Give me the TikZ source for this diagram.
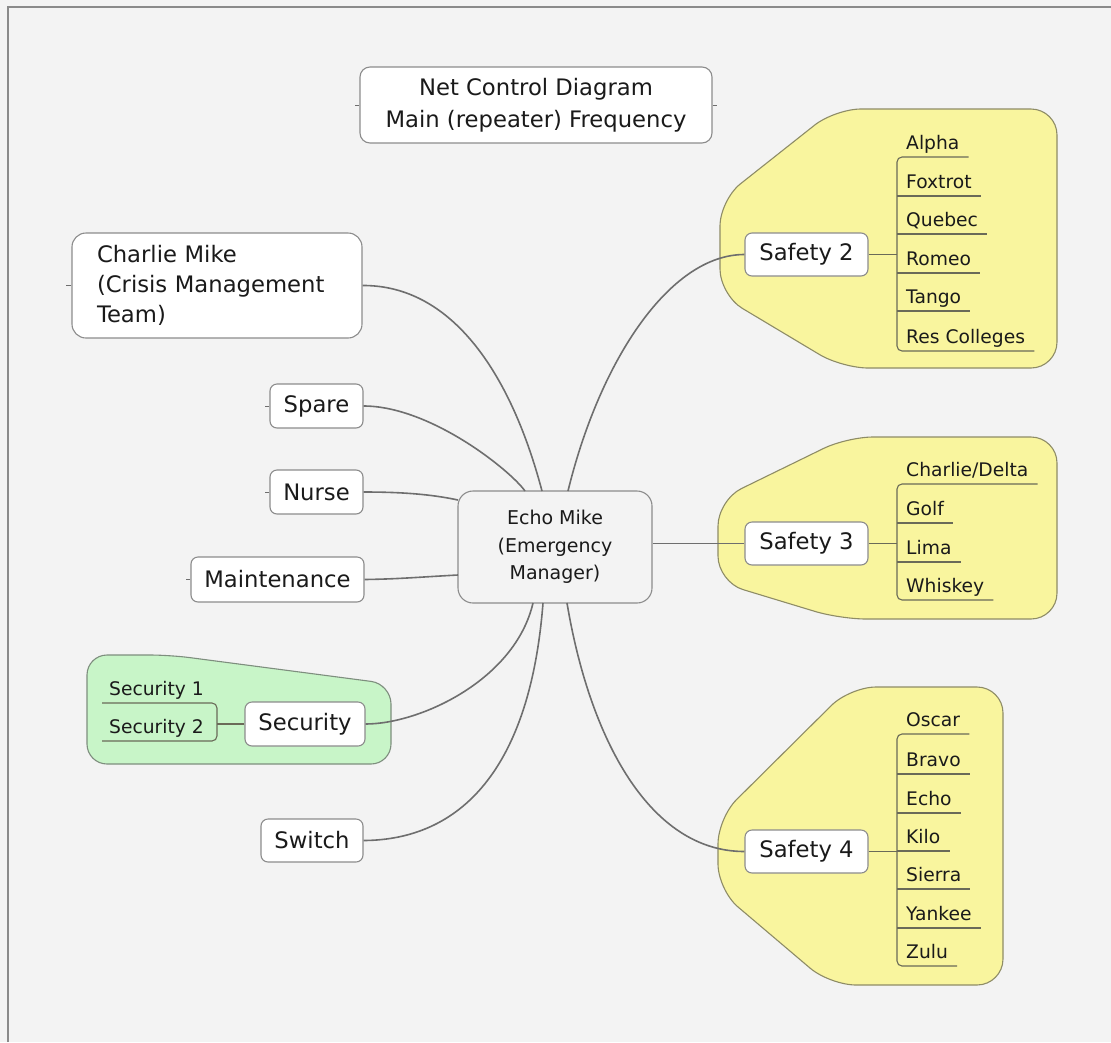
\documentclass[tikz,border=0pt]{standalone}
\usepackage{fontspec}
\setmainfont{DejaVu Sans}
\definecolor{bg}{HTML}{F3F3F3}
\definecolor{frame}{HTML}{8A8A8A}
\definecolor{nodeborder}{HTML}{8C8C8C}
\definecolor{txt}{HTML}{1A1A1A}
\definecolor{linegray}{HTML}{6E6E6E}
\definecolor{yel}{HTML}{F9F59E}
\definecolor{yelb}{HTML}{8E8C66}
\definecolor{grn}{HTML}{C8F5C8}
\definecolor{grnb}{HTML}{7E8E7E}
\definecolor{brkcol}{HTML}{6A6A58}
\tikzset{
 box/.style={draw=nodeborder, fill=white, rounded corners=7pt, line width=1.1pt, text=txt,
   font=\fontsize{22.7}{30}\selectfont, inner sep=0pt, align=center},
 item/.style={anchor=south west, inner xsep=9pt, inner ysep=3pt, text height=14pt, text depth=4.7pt,
   font=\fontsize{18.7}{22}\selectfont, text=txt},
 conn/.style={draw=linegray, line width=1.6pt},
 brk/.style={draw=brkcol, line width=1.1pt, rounded corners=5pt},
 yregion/.style={fill=yel, draw=yelb, line width=1.1pt, rounded corners=26pt},
 gregion/.style={fill=grn, draw=grnb, line width=1.1pt, rounded corners=20pt},
 stub/.style={draw=linegray, line width=0.8pt}
}
\begin{document}
\begin{tikzpicture}[x=1pt,y=-1pt]
\useasboundingbox (0,0) rectangle (1111,1042);
\fill[bg] (0,0) rectangle (1111,1042);
\draw[frame, line width=2pt] (8,1042) -- (8,7) -- (1111,7);

% regions
\draw[yregion] (1057,240) -- (1057,368) -- (842,368) -- (720,295) -- (720,200) -- (835,109) -- (1057,109) -- cycle;
\draw[yregion] (1057,530) -- (1057,619) -- (840,619) -- (718,582) -- (718,500) -- (847,437) -- (1057,437) -- cycle;
\draw[yregion] (1003,830) -- (1003,985) -- (830,985) -- (718,890) -- (718,818) -- (850,687) -- (1003,687) -- cycle;
\draw[gregion] (87,710) -- (87,655) -- (170,655) -- (391,684) -- (391,764) -- (87,764) -- cycle;

% nodes
\node[box, minimum width=352pt, minimum height=76pt, rounded corners=10pt, font=\fontsize{22.7}{32}\selectfont] (title) at (536,105) {Net Control Diagram\\Main (repeater) Frequency};
\node[box, minimum width=290pt, minimum height=105pt, rounded corners=14pt, text width=240pt, inner xsep=25pt, align=left] (cm) at (217,285.5) {Charlie Mike\\(Crisis Management\\Team)};
\node[box, minimum width=93pt, minimum height=44pt] (spare) at (316.5,406) {Spare};
\node[box, minimum width=93pt, minimum height=44pt] (nurse) at (316.5,492) {Nurse};
\node[box, minimum width=173pt, minimum height=45pt] (maint) at (277.5,579.5) {Maintenance};
\node[box, fill=bg, minimum width=194pt, minimum height=112pt, rounded corners=15pt, font=\fontsize{19}{27.5}\selectfont] (echo) at (555,547) {Echo Mike\\(Emergency\\Manager)};
\node[box, minimum width=120pt, minimum height=44pt] (sec) at (305,724) {Security};
\node[box, minimum width=102pt, minimum height=43pt] (switch) at (312,840.5) {Switch};
\node[box, minimum width=123pt, minimum height=43pt] (s2) at (806.5,254.5) {Safety 2};
\node[box, minimum width=123pt, minimum height=43pt] (s3) at (806.5,543.5) {Safety 3};
\node[box, minimum width=123pt, minimum height=43pt] (s4) at (806.5,851.5) {Safety 4};

% stubs
\draw[stub] (title.west) -- ++(-4,0);
\draw[stub] (title.east) -- ++(4,0);
\draw[stub] (cm.west) -- ++(-5,0);
\draw[stub] (spare.west) -- ++(-4,0);
\draw[stub] (nurse.west) -- ++(-4,0);
\draw[stub] (maint.west) -- ++(-4,0);

% connectors from center
\coordinate (eCM) at (542,491);
\coordinate (eSP) at (525,491);
\coordinate (eS2) at (568,491);
\coordinate (eNU) at (458,500);
\coordinate (eMA) at (458,575);
\coordinate (eSE) at (533,603);
\coordinate (eSW) at (543,603);
\coordinate (eS4) at (567,603);
\draw[conn] (eCM) .. controls (510,370) and (450,285) .. (cm.east);
\draw[conn] (eSP) .. controls (510,470) and (430,406) .. (spare.east);
\draw[conn] (eNU) .. controls (430,494) and (400,492) .. (nurse.east);
\draw[conn] (eMA) .. controls (420,577) and (400,579) .. (maint.east);
\draw[conn] (eSE) .. controls (515,680) and (420,724) .. (sec.east);
\draw[conn] (eSW) .. controls (530,770) and (460,840) .. (switch.east);
\draw[conn] (eS2) .. controls (600,360) and (670,254.5) .. (s2.west);
\draw[conn] (s3.west -| echo.east) -- (s3.west);
\draw[conn] (eS4) .. controls (590,740) and (650,851.5) .. (s4.west);

% Safety 2 items
\node[item] (a1) at (897,157) {Alpha};
\node[item] (a2) at (897,196) {Foxtrot};
\node[item] (a3) at (897,234) {Quebec};
\node[item] (a4) at (897,273) {Romeo};
\node[item] (a5) at (897,311) {Tango};
\node[item] (a6) at (897,351) {Res Colleges};
\draw[brk] (a1.south east) -- (a1.south west) -- (a6.south west) -- (a6.south east);
\foreach \n in {a2,a3,a4,a5} \draw[brk] (\n.south west) -- (\n.south east);
\draw[brk] (s2.east) -- (s2.east -| a1.south west);

% Safety 3 items
\node[item] (b1) at (897,484) {Charlie/Delta};
\node[item] (b2) at (897,523) {Golf};
\node[item] (b3) at (897,562) {Lima};
\node[item] (b4) at (897,600) {Whiskey};
\draw[brk] (b1.south east) -- (b1.south west) -- (b4.south west) -- (b4.south east);
\foreach \n in {b2,b3} \draw[brk] (\n.south west) -- (\n.south east);
\draw[brk] (s3.east) -- (s3.east -| b1.south west);

% Safety 4 items
\node[item] (c1) at (897,734) {Oscar};
\node[item] (c2) at (897,774) {Bravo};
\node[item] (c3) at (897,813) {Echo};
\node[item] (c4) at (897,851) {Kilo};
\node[item] (c5) at (897,889) {Sierra};
\node[item] (c6) at (897,928) {Yankee};
\node[item] (c7) at (897,966) {Zulu};
\draw[brk] (c1.south east) -- (c1.south west) -- (c7.south west) -- (c7.south east);
\foreach \n in {c2,c3,c4,c5,c6} \draw[brk] (\n.south west) -- (\n.south east);
\draw[brk] (s4.east) -- (s4.east -| c1.south west);

% Security items
\node[item, inner xsep=7pt] (d1) at (102,703) {Security 1};
\node[item, inner xsep=7pt] (d2) at (102,741) {Security 2};
\coordinate (dbr) at (217,703);
\draw[brk] (d1.south west) -- (dbr) -- (dbr |- d2.south) -- (d2.south west);
\draw[brk] (sec.west) -- (sec.west -| dbr);
\end{tikzpicture}
\end{document}
